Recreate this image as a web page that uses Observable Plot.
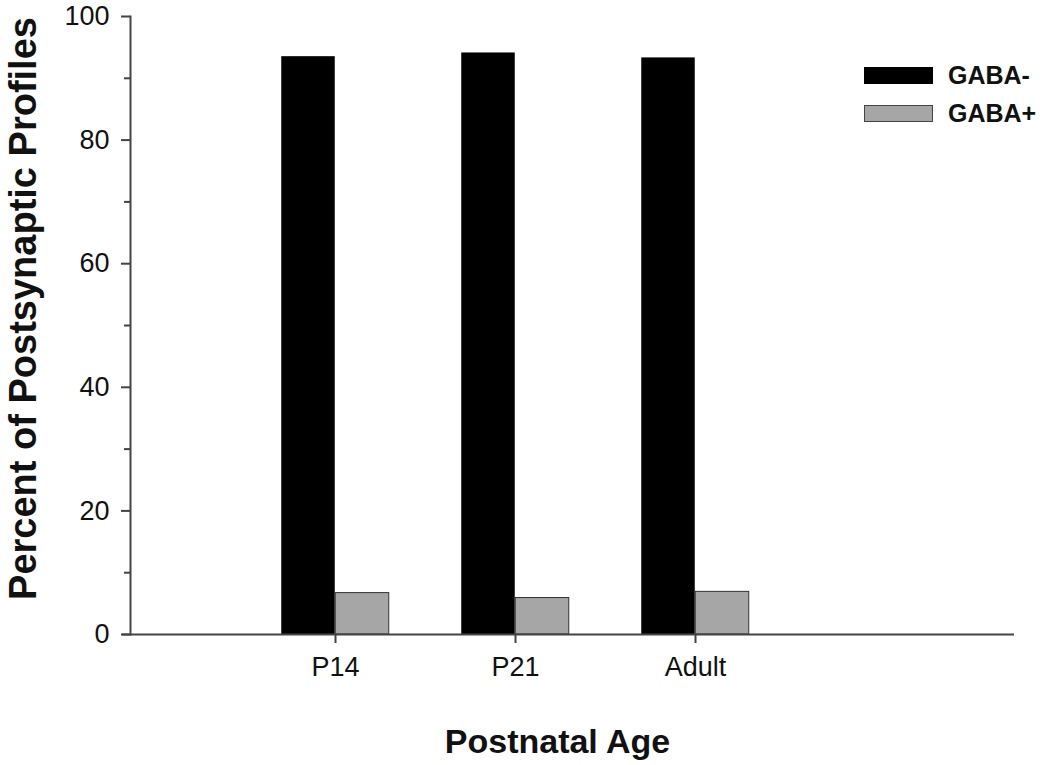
<!DOCTYPE html>
<html>
<head>
<meta charset="utf-8">
<script src="https://cdn.jsdelivr.net/npm/d3@7"></script>
<script src="https://cdn.jsdelivr.net/npm/@observablehq/plot@0.6"></script>
<style>
  html, body { margin: 0; padding: 0; background: #fff; }
  #wrap { position: relative; width: 1050px; height: 765px; font-family: "Liberation Sans", Arial, sans-serif; }
  #legend { position: absolute; left: 864px; top: 56px; font-weight: bold; font-size: 25px; color: #111; }
  .item { display: flex; align-items: center; height: 38.5px; }
  .sw { width: 69px; height: 17px; margin-right: 15px; box-sizing: border-box; }
</style>
</head>
<body>
<div id="wrap"></div>
<script>
const ages = ["P14", "P21", "Adult"];
const series = ["GABA-", "GABA+"];
const gabaNeg = [93.5, 94.1, 93.3];
const gabaPos = [6.7, 5.9, 6.9];
const colors = ["#000000", "#a6a6a6"];
const yTicks = [0, 20, 40, 60, 80, 100];
const yMinor = [10, 30, 50, 70, 90];
const yTitle = "Percent of Postsynaptic Profiles";
const xTitle = "Postnatal Age";

const negData = ages.map((a, i) => ({age: a, series: series[0], value: gabaNeg[i]}));
const posData = ages.map((a, i) => ({age: a, series: series[1], value: gabaPos[i]}));

const font = "Liberation Sans, Arial, sans-serif";
const axisColor = "#444";

const chart = Plot.plot({
  width: 1050,
  height: 765,
  marginLeft: 130,
  marginRight: 36,
  marginTop: 16,
  marginBottom: 131,
  style: {fontFamily: font, background: "#fff", color: "#111"},
  x: {domain: ages, range: [243.75, 785.25], padding: 0},
  y: {domain: [0, 100]},
  marks: [
    Plot.barY(negData, {x: "age", y: "value", fill: colors[0], insetLeft: 36.25, insetRight: 90.25}),
    Plot.barY(posData, {x: "age", y: "value", fill: colors[1], stroke: "#333", strokeWidth: 1, insetLeft: 90.25, insetRight: 36.25}),
    Plot.ruleY([0], {stroke: axisColor, strokeWidth: 2, insetLeft: -8}),
    Plot.frame({anchor: "left", stroke: axisColor, strokeWidth: 2}),
    Plot.axisY({ticks: yTicks, tickSize: 9, tickPadding: 12, fontSize: 27, stroke: axisColor, strokeWidth: 2, label: null}),
    Plot.axisY({ticks: yMinor, tickSize: 6, text: null, stroke: axisColor, strokeWidth: 2, label: null}),
    Plot.axisX({tickSize: 9, tickPadding: 13, fontSize: 27, stroke: axisColor, strokeWidth: 2, label: null}),
    Plot.text([yTitle], {frameAnchor: "left", text: d => d, rotate: -90, textAnchor: "middle", lineAnchor: "middle", dx: -107, dy: -17, fontSize: 38, fontWeight: "bold", fill: "#111"}),
    Plot.text([xTitle], {frameAnchor: "bottom", text: d => d, textAnchor: "middle", lineAnchor: "middle", dx: -15, dy: 108, fontSize: 34, fontWeight: "bold", fill: "#111"})
  ]
});

const wrap = document.getElementById("wrap");
wrap.appendChild(chart);

const legend = document.createElement("div");
legend.id = "legend";
series.forEach((s, i) => {
  const item = document.createElement("div");
  item.className = "item";
  const sw = document.createElement("div");
  sw.className = "sw";
  sw.style.background = colors[i];
  sw.style.border = i === 1 ? "1px solid #444" : "none";
  const t = document.createElement("span");
  t.textContent = s;
  item.appendChild(sw);
  item.appendChild(t);
  legend.appendChild(item);
});
wrap.appendChild(legend);
</script>
</body>
</html>
